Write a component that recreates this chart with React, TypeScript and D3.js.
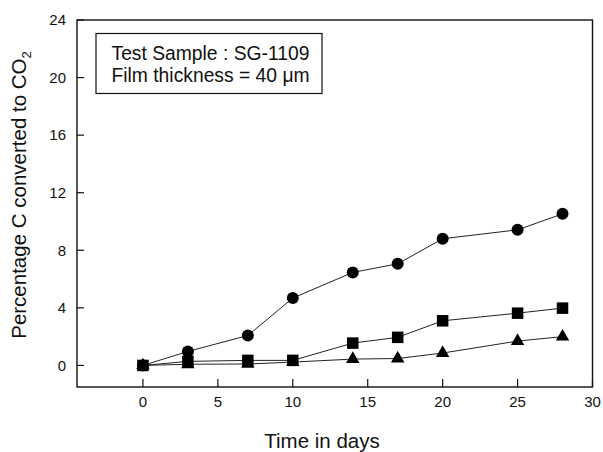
import React from "react";
import * as d3 from "d3";

const days = [0, 3, 7, 10, 14, 17, 20, 25, 28];
const circleSeries = [0, 0.97, 2.08, 4.68, 6.46, 7.06, 8.8, 9.42, 10.53];
const squareSeries = [0, 0.28, 0.35, 0.35, 1.55, 1.95, 3.1, 3.63, 3.98];
const triangleSeries = [0, 0.08, 0.1, 0.23, 0.44, 0.48, 0.86, 1.69, 2.0];
const xTicks = [0, 5, 10, 15, 20, 25, 30];
const yTicks = [0, 4, 8, 12, 16, 20, 24];
const legendLines = ["Test Sample : SG-1109", "Film thickness = 40 \u03bcm"];

const W = 603;
const H = 452;
const FONT = "'Liberation Sans', Arial, Helvetica, sans-serif";

export default function App() {
  const x = d3.scaleLinear().domain([-4.4, 30]).range([77, 592.5]);
  const y = d3.scaleLinear().domain([-1.5, 24]).range([387, 20]);
  const line = d3
    .line<number>()
    .x((_, i) => x(days[i]))
    .y((v) => y(v));

  const tri = d3.symbol().type(d3.symbolTriangle).size(78)();
  const sq = 11.5;

  return (
    <svg
      width={W}
      height={H}
      style={{ position: "absolute", left: 0, top: 0, display: "block", background: "#fff" }}
      fontFamily={FONT}
    >
      <rect x={0} y={0} width={W} height={H} fill="#fff" />
      {/* frame */}
      <rect
        x={x(-4.4)}
        y={y(24)}
        width={x(30) - x(-4.4)}
        height={y(-1.5) - y(24)}
        fill="none"
        stroke="#111"
        strokeWidth={1.4}
      />
      {/* x ticks */}
      {xTicks.map((t) => (
        <g key={"xt" + t}>
          <line x1={x(t)} x2={x(t)} y1={y(-1.5)} y2={y(-1.5) - 8} stroke="#111" strokeWidth={1.2} />
          <text x={x(t)} y={407} textAnchor="middle" fontSize={15} fill="#111">
            {t}
          </text>
        </g>
      ))}
      {/* y ticks */}
      {yTicks.map((t) => (
        <g key={"yt" + t}>
          <line x1={x(-4.4)} x2={x(-4.4) + 7} y1={y(t)} y2={y(t)} stroke="#111" strokeWidth={1.2} />
          <text x={66} y={y(t)} dy="0.35em" textAnchor="end" fontSize={15} fill="#111">
            {t}
          </text>
        </g>
      ))}
      {/* axis labels */}
      <text x={322} y={448} textAnchor="middle" fontSize={20.5} fill="#111">
        Time in days
      </text>
      <text
        transform={`translate(26,195) rotate(-90)`}
        textAnchor="middle"
        fontSize={20.5}
        fill="#111"
      >
        Percentage C converted to CO
        <tspan fontSize={13} dy={5}>
          2
        </tspan>
      </text>
      {/* legend box */}
      <rect x={96} y={33.5} width={226} height={60} fill="#fff" stroke="#111" strokeWidth={1.2} />
      {legendLines.map((l, i) => (
        <text key={l} x={111.5} y={60 + i * 22} fontSize={19.3} fill="#111">
          {l}
        </text>
      ))}
      {/* lines */}
      <path d={line(triangleSeries) || ""} fill="none" stroke="#222" strokeWidth={1} />
      <path d={line(squareSeries) || ""} fill="none" stroke="#222" strokeWidth={1} />
      <path d={line(circleSeries) || ""} fill="none" stroke="#222" strokeWidth={1} />
      {/* markers */}
      {triangleSeries.map((v, i) => (
        <path key={"t" + i} d={tri || ""} transform={`translate(${x(days[i])},${y(v)})`} fill="#000" />
      ))}
      {squareSeries.map((v, i) => (
        <rect key={"s" + i} x={x(days[i]) - sq / 2} y={y(v) - sq / 2} width={sq} height={sq} fill="#000" />
      ))}
      {circleSeries.map((v, i) => (
        <circle key={"c" + i} cx={x(days[i])} cy={y(v)} r={6} fill="#000" />
      ))}
    </svg>
  );
}
